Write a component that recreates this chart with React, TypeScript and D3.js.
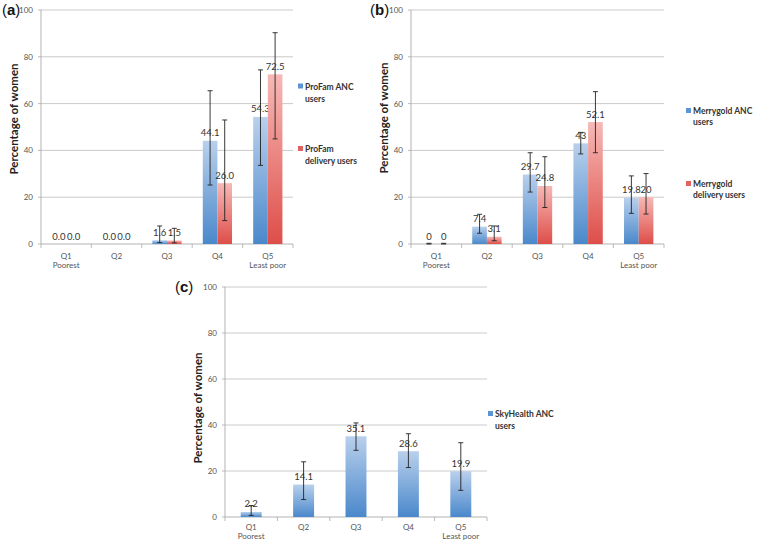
import React from "react";
import * as d3 from "d3";

const quintiles = ["Q1", "Q2", "Q3", "Q4", "Q5"];
const quintileSub = ["Poorest", "", "", "", "Least poor"];
const yTicks = [0, 20, 40, 60, 80, 100];

// Panel (a) ProFam
const profamAnc = [0, 0, 1.6, 44.1, 54.3];
const profamAncLabels = ["0.0", "0.0", "1.6", "44.1", "54.3"];
const profamAncLow = [null, null, 0.6, 25.2, 33.6];
const profamAncHigh = [null, null, 7.7, 65.5, 74.4];
const profamDel = [0, 0, 1.5, 26.0, 72.5];
const profamDelLabels = ["0.0", "0.0", "1.5", "26.0", "72.5"];
const profamDelLow = [null, null, 0.5, 10, 44.9];
const profamDelHigh = [null, null, 6.7, 53, 90.3];

// Panel (b) Merrygold
const merryAnc = [0, 7.4, 29.7, 43, 19.8];
const merryAncLabels = ["0", "7.4", "29.7", "43", "19.8"];
const merryAncLow = [0, 4.6, 22.2, 38.5, 13.1];
const merryAncHigh = [0.3, 12.7, 39, 47.7, 29.1];
const merryDel = [0, 3.1, 24.8, 52.1, 20];
const merryDelLabels = ["0", "3.1", "24.8", "52.1", "20"];
const merryDelLow = [0, 1.4, 15.6, 39, 12.8];
const merryDelHigh = [0.3, 7.7, 37.3, 65.1, 30.1];

// Panel (c) SkyHealth
const skyAnc = [2.2, 14.1, 35.1, 28.6, 19.9];
const skyAncLabels = ["2.2", "14.1", "35.1", "28.6", "19.9"];
const skyAncLow = [0.7, 7.6, 29, 21.5, 11.6];
const skyAncHigh = [5, 24, 40.9, 36.2, 32.3];

type Series = {
  name: string[];
  values: number[];
  labels: string[];
  low: (number | null)[];
  high: (number | null)[];
  grad: string;
  swatch: string;
};

const FONT = "Lato, 'Open Sans', sans-serif";

function Panel(props: {
  letter: string;
  letterX: number;
  letterY: number;
  x0: number;
  x1: number;
  yTop: number;
  yBot: number;
  series: Series[];
  barFrac: number;
  legendX: number;
  legendY: number[];
  legendGap: number;
  qDy: number;
  titleY: number;
}) {
  const { x0, x1, yTop, yBot, series, barFrac } = props;
  const x = d3.scaleBand<string>().domain(quintiles).range([x0, x1]).paddingInner(0).paddingOuter(0);
  const y = d3.scaleLinear().domain([0, 100]).range([yBot, yTop]);
  const bw = x.bandwidth();
  const groupW = bw * barFrac;
  const inner = d3
    .scaleBand<number>()
    .domain(series.map((_, i) => i))
    .range([0, groupW])
    .padding(0);
  const bwi = inner.bandwidth();
  return (
    <g>
      <text x={props.letterX} y={props.letterY} fontFamily="'Liberation Sans', Arial, sans-serif" fontSize={15} fill="#111">
        (<tspan fontWeight="bold">{props.letter}</tspan>)
      </text>
      {yTicks.map((t) => (
        <g key={t}>
          {t > 0 && <line x1={x0} x2={x1} y1={y(t)} y2={y(t)} stroke="#c4c4c4" strokeWidth={0.9} />}
          <line x1={x0 - 3} x2={x0} y1={y(t)} y2={y(t)} stroke="#aaa" strokeWidth={0.8} />
          <text x={x0 - 8} y={y(t) + 3} textAnchor="end" fontFamily={FONT} fontSize={8} fill="#555">
            {t}
          </text>
        </g>
      ))}
      <line x1={x0} x2={x0} y1={yTop} y2={yBot} stroke="#aaa" strokeWidth={0.9} />
      <line x1={x0} x2={x1} y1={yBot} y2={yBot} stroke="#aaa" strokeWidth={0.9} />
      {quintiles.map((q, i) => (
        <line key={"tk" + i} x1={x(q)! + bw} x2={x(q)! + bw} y1={yBot} y2={yBot + 4} stroke="#aaa" strokeWidth={0.8} />
      ))}
      <line x1={x0} x2={x0} y1={yBot} y2={yBot + 4} stroke="#aaa" strokeWidth={0.8} />
      <text
        transform={`translate(${x0 - 23},${props.titleY}) rotate(-90)`}
        textAnchor="middle"
        fontFamily={FONT}
        fontWeight="bold"
        fontSize={11.5}
        fill="#222"
      >
        Percentage of women
      </text>
      {quintiles.map((q, i) => (
        <g key={q}>
          <text x={x(q)! + bw / 2} y={yBot + props.qDy} textAnchor="middle" fontFamily={FONT} fontSize={8} fill="#555">
            {q}
          </text>
          {quintileSub[i] && (
            <text x={x(q)! + bw / 2} y={yBot + props.qDy + 9} textAnchor="middle" fontFamily={FONT} fontSize={8} fill="#555">
              {quintileSub[i]}
            </text>
          )}
        </g>
      ))}
      {series.map((s, si) => (
        <g key={si}>
          {quintiles.map((q, i) => {
            const bx = x(q)! + (bw - groupW) / 2 + inner(si)!;
            const v = s.values[i];
            const lo = s.low[i];
            const hi = s.high[i];
            const cx = bx + bwi / 2;
            return (
              <g key={q}>
                {v > 0 && <rect x={bx} y={y(v)} width={bwi} height={yBot - y(v)} fill={`url(#${s.grad})`} />}
                {lo !== null && hi !== null && (
                  <g stroke="#222" strokeWidth={0.9}>
                    <line x1={cx} x2={cx} y1={y(lo)} y2={y(hi)} />
                    <line x1={cx - 2.5} x2={cx + 2.5} y1={y(lo)} y2={y(lo)} />
                    <line x1={cx - 2.5} x2={cx + 2.5} y1={y(hi)} y2={y(hi)} />
                  </g>
                )}
                <text x={cx} y={y(v) - 4.5} textAnchor="middle" fontFamily={FONT} fontSize={9.5} fill="#333">
                  {s.labels[i]}
                </text>
              </g>
            );
          })}
          <rect x={props.legendX} y={props.legendY[si] - 6} width={5} height={5} fill={s.swatch} />
          {s.name.map((line, li) => (
            <text
              key={li}
              x={props.legendX + 7}
              y={props.legendY[si] + li * props.legendGap}
              fontFamily={FONT}
              fontWeight="bold"
              fontSize={8.5}
              fill="#333"
            >
              {line}
            </text>
          ))}
        </g>
      ))}
    </g>
  );
}

export default function App() {
  const blueA: Series = {
    name: ["ProFam ANC", "users"],
    values: profamAnc,
    labels: profamAncLabels,
    low: profamAncLow,
    high: profamAncHigh,
    grad: "gBlue",
    swatch: "#5b95d3",
  };
  const redA: Series = {
    name: ["ProFam", "delivery users"],
    values: profamDel,
    labels: profamDelLabels,
    low: profamDelLow,
    high: profamDelHigh,
    grad: "gRed",
    swatch: "#e2625d",
  };
  const blueB: Series = {
    name: ["Merrygold ANC", "users"],
    values: merryAnc,
    labels: merryAncLabels,
    low: merryAncLow,
    high: merryAncHigh,
    grad: "gBlue",
    swatch: "#5b95d3",
  };
  const redB: Series = {
    name: ["Merrygold", "delivery users"],
    values: merryDel,
    labels: merryDelLabels,
    low: merryDelLow,
    high: merryDelHigh,
    grad: "gRed",
    swatch: "#e2625d",
  };
  const blueC: Series = {
    name: ["SkyHealth ANC", "users"],
    values: skyAnc,
    labels: skyAncLabels,
    low: skyAncLow,
    high: skyAncHigh,
    grad: "gBlue",
    swatch: "#5b95d3",
  };
  return (
    <svg width={758} height={544} style={{ position: "absolute", left: 0, top: 0, background: "#fff" }}>
      <defs>
        <linearGradient id="gBlue" x1="0" y1="0" x2="0" y2="1">
          <stop offset="0" stopColor="#b9d0ec" />
          <stop offset="1" stopColor="#4a88cb" />
        </linearGradient>
        <linearGradient id="gRed" x1="0" y1="0" x2="0" y2="1">
          <stop offset="0" stopColor="#f6b9b6" />
          <stop offset="1" stopColor="#de4e49" />
        </linearGradient>
      </defs>
      <rect width={758} height={544} fill="#fff" />
      <Panel
        letter="a"
        letterX={2}
        letterY={15}
        x0={41}
        x1={293}
        yTop={10}
        yBot={244}
        series={[blueA, redA]}
        barFrac={0.58}
        legendX={298}
        legendY={[89.5, 152]}
        legendGap={12}
        qDy={15}
        titleY={119}
      />
      <Panel
        letter="b"
        letterX={370}
        letterY={15}
        x0={411}
        x1={664}
        yTop={10}
        yBot={244}
        series={[blueB, redB]}
        barFrac={0.58}
        legendX={686}
        legendY={[114, 187]}
        legendGap={11}
        qDy={15}
        titleY={118}
      />
      <Panel
        letter="c"
        letterX={175}
        letterY={292}
        x0={225}
        x1={487}
        yTop={287}
        yBot={517}
        series={[blueC]}
        barFrac={0.4}
        legendX={488}
        legendY={[417]}
        legendGap={12}
        qDy={13}
        titleY={408}
      />
    </svg>
  );
}
